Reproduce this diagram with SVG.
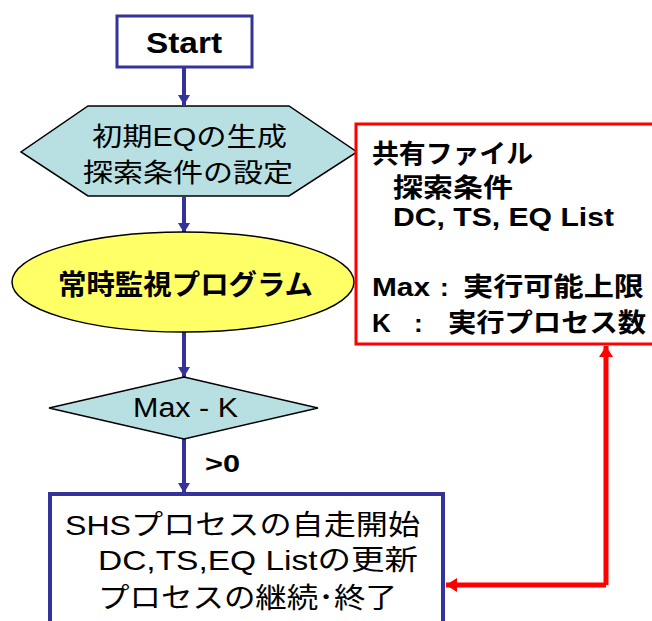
<svg xmlns="http://www.w3.org/2000/svg" width="652" height="621" viewBox="0 0 652 621">
<style>
.t{font-family:"Liberation Sans","Noto Sans CJK JP",sans-serif;fill:#000}
.b{font-weight:bold}
.blue{stroke:#333399;stroke-width:4;fill:none}
.red{stroke:#ff0000;stroke-width:5;fill:none}
</style>
<defs>
<marker id="ab" markerUnits="userSpaceOnUse" markerWidth="14" markerHeight="12" refX="10" refY="6" orient="auto"><path d="M0,0 L10,6 L0,12 Z" fill="#333399"/></marker>
<marker id="ar" markerUnits="userSpaceOnUse" markerWidth="14" markerHeight="14" refX="11" refY="7" orient="auto"><path d="M0,0 L11,7 L0,14 Z" fill="#ff0000"/></marker>
</defs>
<g id="connectors">
<line class="blue" x1="184" y1="67" x2="184" y2="105" marker-end="url(#ab)"/>
<line class="blue" x1="184" y1="197" x2="184" y2="233" marker-end="url(#ab)"/>
<line class="blue" x1="184" y1="332" x2="184" y2="377" marker-end="url(#ab)"/>
<line class="blue" x1="184" y1="439" x2="184" y2="493" marker-end="url(#ab)"/>
<text class="t b" x="205" y="472" font-size="24" textLength="35" lengthAdjust="spacingAndGlyphs">&gt;0</text>
<polyline class="red" points="606,585 606,346" marker-end="url(#ar)"/>
<polyline class="red" points="606,585 446,585" marker-end="url(#ar)"/>
</g>
<g id="start">
<rect x="117" y="16" width="135" height="51" fill="#fff" stroke="#333399" stroke-width="3"/>
<text class="t b" x="184" y="53" font-size="29" text-anchor="middle" textLength="76" lengthAdjust="spacingAndGlyphs">Start</text>
</g>
<g id="init">
<polygon points="88,106 289,106 357,152 289,196 88,196 21,152" fill="#b8dfe2" stroke="#000" stroke-width="1.5"/>
<text class="t" x="92" y="146" font-size="26" textLength="195" lengthAdjust="spacingAndGlyphs">初期EQの生成</text>
<text class="t" x="83" y="182" font-size="26" textLength="210" lengthAdjust="spacingAndGlyphs">探索条件の設定</text>
</g>
<g id="monitor">
<ellipse cx="183" cy="282" rx="171" ry="50" fill="#ffff66" stroke="#000" stroke-width="1.5"/>
<text class="t b" x="58" y="295" font-size="28" textLength="255" lengthAdjust="spacingAndGlyphs">常時監視プログラム</text>
</g>
<g id="decision">
<polygon points="184,377 318,408 184,439 49,408" fill="#b8dfe2" stroke="#000" stroke-width="1.5"/>
<text class="t" x="133" y="417" font-size="27" textLength="105" lengthAdjust="spacingAndGlyphs">Max - K</text>
</g>
<g id="shared">
<rect x="356" y="124" width="310" height="220" fill="#fff" stroke="#ff0000" stroke-width="3"/>
<text class="t b" x="372" y="163" font-size="26" textLength="161" lengthAdjust="spacingAndGlyphs">共有ファイル</text>
<text class="t b" x="393" y="197" font-size="26" textLength="120" lengthAdjust="spacingAndGlyphs">探索条件</text>
<text class="t b" x="393" y="226" font-size="26" textLength="221" lengthAdjust="spacingAndGlyphs">DC, TS, EQ List</text>
<text class="t b" x="372" y="296" font-size="26" textLength="58" lengthAdjust="spacingAndGlyphs">Max</text>
<text class="t b" x="440" y="296" font-size="26">:</text>
<text class="t b" x="463" y="296" font-size="26" textLength="181" lengthAdjust="spacingAndGlyphs">実行可能上限</text>
<text class="t b" x="372" y="332" font-size="26">K</text>
<text class="t b" x="414" y="332" font-size="26">:</text>
<text class="t b" x="448" y="332" font-size="26" textLength="198" lengthAdjust="spacingAndGlyphs">実行プロセス数</text>
</g>
<g id="process">
<rect x="50" y="494" width="393" height="140" fill="#fff" stroke="#333399" stroke-width="4"/>
<text class="t" x="65" y="535" font-size="28" textLength="355" lengthAdjust="spacingAndGlyphs">SHSプロセスの自走開始</text>
<text class="t" x="98" y="570" font-size="28" textLength="320" lengthAdjust="spacingAndGlyphs">DC,TS,EQ Listの更新</text>
<text class="t" x="98" y="608" font-size="28" textLength="299" lengthAdjust="spacingAndGlyphs">プロセスの継続･終了</text>
</g>
</svg>
